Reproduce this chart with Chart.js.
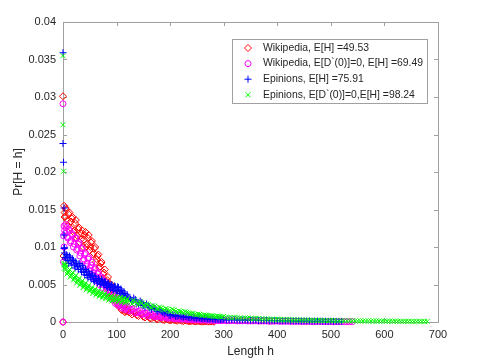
<!DOCTYPE html>
<html>
<head>
<meta charset="utf-8">
<script src="https://cdn.jsdelivr.net/npm/chart.js@4.4.1/dist/chart.umd.min.js"></script>
<style>
  html, body { margin: 0; padding: 0; background: #fff; }
  #wrap { width: 485px; height: 363px; }
</style>
</head>
<body>
<div id="wrap"><canvas id="chart" width="485" height="363"></canvas></div>
<script>
// path lengths h shared by all four series (each series uses a prefix of it)
const lengths = [2,4,6,9,12,15,18,21,24,27,30,33,36,39,42,45,48,51,54,57,60,63,66,69,72,75,78,81,84,87,90,93,96,99,102,105,108,111,114,117,120,
  126,132,138,144,150,156,162,168,174,180,186,192,198,204,210,216,222,228,234,240,246,252,258,264,270,276,282,288,294,300,
  310,320,330,340,350,360,370,380,390,400,410,420,430,440,450,460,470,480,490,500,510,520,530,540,550,560,570,580,590,600,610,620,630,640,650,660,670,680];
// a second, staggered set of lengths for the other side of each noisy cloud
const lengthsMid = [3,5,7.5,10.5,13.5,16.5,19.5,22.5,25.5,28.5,31.5,34.5,37.5,40.5,43.5,46.5,49.5,52.5,55.5,58.5,61.5,64.5,67.5,70.5,73.5,76.5,79.5,82.5,85.5,88.5,91.5,94.5,97.5,100.5,103.5,106.5,109.5,112.5,115.5,118.5,
  123,129,135,141,147,153,159,165,171,177,183,189,195,201,207,213,219,225,231,237,243,249,255,261,267,273,279,285,291,297,
  305,315,325,335,345,355,365,375,385,395,405,415,425,435,445,455,465,475,485,495,505,515,525,535,545,555,565,575,585,595,605,615,625,635,645,655,665,675];

// Pr[H = h] values, in units of 1e-4
const wikiP = [155,140,150,128,146,134,140,122,136,115,126,110,122,110,120,104,116,100,108,92,100,84,90,74,80,64,70,54,60,44,50,36,40,28,32,22,26,17,21,14,17,
  12,14,9,11,7,9,5,7,4,6,3,4.5,2.5,3.5,2,3,1.5,2,1,1.5,0.8,1.2,0.5,0.9,0.4,0.7,0.3];
const wikiPMid = [146,152,136,144,126,138,120,132,112,124,106,118,100,116,100,112,96,106,90,98,80,88,72,78,58,66,50,56,42,46,34,38,27,30,21,24,16,19,13,15,
  13,10,12,8,10,6,8,4.5,6,3.5,5,2.5,3.5,2,2.8,1.5,2.2,1.2,1.7,0.9,1.3,0.7,1,0.5,0.8,0.4,0.6];
const wikiD0P = [128,118,126,112,122,108,116,104,112,98,106,92,98,84,92,78,86,72,80,66,72,60,66,54,60,50,54,44,48,38,42,32,36,27,31,24,27,21,24,19,21,
  16,18,13,15,11,12,9,10,7.5,8.5,6.5,7,5.5,6,4.5,5,4,4.5,3.5,4,3,3.5,2.8,3.2,2.5,2.8,2.2,2.5,2,2.3,
  1.8,2,1.6,1.8,1.4,1.6,1.3,1.4,1.1,1.3,1,1.1,0.9,1,0.8,0.9,0.7,0.8,0.6,0.7,0.6,0.6,0.5,0.5];
const wikiD0PMid = [122,130,114,124,106,118,100,112,96,104,88,98,82,90,74,84,68,76,62,70,56,64,50,58,46,52,40,46,35,40,30,34,25,29,22,26,19,23,17,20,
  15,17,12,14,10,12,8,9.5,7,8,6,6.8,5,5.8,4.2,4.8,3.7,4.2,3.3,3.7,2.9,3.2,2.6,2.9,2.3,2.6,2,2.3,1.8,2.1,
  1.7,1.9,1.5,1.7,1.3,1.5,1.2,1.3,1,1.2,0.9,1,0.8,0.9,0.7,0.8,0.6,0.7,0.6,0.6,0.5,0.5,0.4,0.4];
const epiP = [98,86,90,82,88,80,84,76,80,74,78,70,75,66,70,62,67,60,64,56,61,55,58,52,57,51,54,48,52,46,50,44,48,42,47,40,44,37,40,33,36,
  30,32,26,28,22,24,19,20,16,17,13,14,9,10,8,8.5,7,7.5,6,6.5,5.2,5.6,4.6,5,4,4.3,3.6,3.9,3.2,3.4,
  2.9,3.1,2.6,2.7,2.3,2.4,2,2.1,1.8,1.9,1.6,1.7,1.4,1.5,1.3,1.3,1.1,1.2,1,1,0.9,0.9];
const epiPMid = [92,84,88,78,86,76,82,72,78,70,76,67,72,63,68,59,64,57,62,54,58,52,56,50,55,49,53,46,51,44,49,42,47,41,46,38,42,35,38,31,
  33,28,30,24,26,20,22,17,18,14,15,11,12,8.5,9.5,7.5,8,6.5,7,5.6,6,4.8,5.2,4.2,4.6,3.8,4.1,3.4,3.6,3.1,
  2.7,3,2.5,2.6,2.2,2.3,1.9,2,1.7,1.8,1.5,1.6,1.3,1.4,1.2,1.2,1,1.1,0.9,1,0.8,0.8];
const epiD0P = [78,70,74,66,70,62,66,58,62,55,58,51,55,48,52,45,49,43,46,40,44,38,42,36,40,34,38,33,36,31,35,30,34,30,33,29,33,28,32,27,31,
  26,29,25,27,22,24,20,22,18,20,17,18,15,17,14,15,13,14,12,11,10,10.5,9,9.5,8.5,8.5,7.5,8,7,7.5,
  6,6.3,5.3,5.5,4.6,4.8,4,4.2,3.5,3.7,3.1,3.2,2.7,2.8,2.4,2.5,2.1,2.2,1.9,2,1.7,1.8,1.6,1.6,1.4,1.4,1.3,1.3,1.2,1.2,1.1,1.1,1,1,0.9,0.9,0.8,0.8];
const epiD0PMid = [72,76,64,68,60,64,56,60,52,56,49,53,46,50,43,47,41,44,38,42,36,40,34,38,32,36,31,34,29,33,28,32,28,31,27,31,26,30,25,29,
  28,24,27,23,25,21,23,19,21,17,19,16,17,14,16,13,14,12,13,11,11.5,9.5,10,8.5,9,7.8,8,7,7.5,6.5,
  6.2,5.6,5.8,5,5.1,4.4,4.5,3.8,3.9,3.3,3.4,2.9,3,2.6,2.6,2.3,2.3,2,2,1.8,1.8,1.6,1.6,1.5,1.4,1.3,1.3,1.2,1.2,1.1,1.1,1,1,0.9,0.9,0.8,0.8,0.7];

// the few points near h = 0 that stand apart from the clouds
const wikiHeadH = [0,0,1,3];
const wikiHeadP = [0,301,88,140];
const wikiD0HeadH = [0,0,1,1,2];
const wikiD0HeadP = [0,291,80,115,100];
const epiHeadH = [0,0,1,2,2,3];
const epiHeadP = [359,238,213,152,116,99];
const epiD0HeadH = [0,0,1,2];
const epiD0HeadP = [355,263,201,76];

const seriesLabels = [
  "Wikipedia, E[H] =49.53",
  "Wikipedia, E[D`(0)]=0, E[H] =69.49",
  "Epinions, E[H] =75.91",
  "Epinions, E[D`(0)]=0,E[H] =98.24"
];
const xTicks = [0,100,200,300,400,500,600,700];

const axisColor = "#a0a0a0";
const textColor = "#262626";
const font = "Liberation Sans, Arial, Helvetica, sans-serif";

function toPoints(headH, headP, vals, midVals) {
  const pts = headH.map((h, i) => ({ x: h, y: headP[i] / 1e4 }));
  vals.forEach((v, i) => pts.push({ x: lengths[i], y: v / 1e4 }));
  midVals.forEach((v, i) => pts.push({ x: lengthsMid[i], y: v / 1e4 }));
  return pts;
}

const styles = [
  { color: "#ff0000", pointStyle: "rectRot", radius: 3.5 },
  { color: "#ff00ff", pointStyle: "circle", radius: 3 },
  { color: "#0000ff", pointStyle: "cross", radius: 3.5 },
  { color: "#00ff00", pointStyle: "crossRot", radius: 3.5 }
];

const allPoints = [
  toPoints(wikiHeadH, wikiHeadP, wikiP, wikiPMid),
  toPoints(wikiD0HeadH, wikiD0HeadP, wikiD0P, wikiD0PMid),
  toPoints(epiHeadH, epiHeadP, epiP, epiPMid),
  toPoints(epiD0HeadH, epiD0HeadP, epiD0P, epiD0PMid)
];

const datasets = allPoints.map((pts, i) => ({
  label: seriesLabels[i],
  data: pts,
  borderColor: styles[i].color,
  backgroundColor: "rgba(0,0,0,0)",
  pointStyle: styles[i].pointStyle,
  pointRadius: styles[i].radius,
  pointBorderWidth: 1,
  showLine: false,
  clip: false,
  order: 4 - i
}));

function drawMarker(ctx, style, x, y) {
  const r = style.radius;
  ctx.strokeStyle = style.color;
  ctx.lineWidth = 1;
  ctx.beginPath();
  if (style.pointStyle === "rectRot") {
    ctx.moveTo(x, y - r); ctx.lineTo(x + r, y); ctx.lineTo(x, y + r); ctx.lineTo(x - r, y); ctx.closePath();
  } else if (style.pointStyle === "circle") {
    ctx.arc(x, y, r, 0, Math.PI * 2);
  } else if (style.pointStyle === "cross") {
    ctx.moveTo(x - r, y); ctx.lineTo(x + r, y); ctx.moveTo(x, y - r); ctx.lineTo(x, y + r);
  } else {
    const d = r * Math.SQRT1_2;
    ctx.moveTo(x - d, y - d); ctx.lineTo(x + d, y + d); ctx.moveTo(x - d, y + d); ctx.lineTo(x + d, y - d);
  }
  ctx.stroke();
}

const octaveFrame = {
  id: "octaveFrame",
  beforeDatasetsDraw(chart) {
    const { ctx, chartArea: a, scales: { x, y } } = chart;
    ctx.save();
    ctx.strokeStyle = axisColor;
    ctx.lineWidth = 1;
    ctx.strokeRect(a.left + 0.5, a.top + 0.5, a.right - a.left, a.bottom - a.top);
    ctx.beginPath();
    x.ticks.forEach(t => {
      const px = Math.round(x.getPixelForValue(t.value)) + 0.5;
      ctx.moveTo(px, a.bottom); ctx.lineTo(px, a.bottom - 4);
      ctx.moveTo(px, a.top); ctx.lineTo(px, a.top + 4);
    });
    y.ticks.forEach(t => {
      const py = Math.round(y.getPixelForValue(t.value)) + 0.5;
      ctx.moveTo(a.left, py); ctx.lineTo(a.left + 4, py);
      ctx.moveTo(a.right, py); ctx.lineTo(a.right - 4, py);
    });
    ctx.stroke();
    ctx.restore();
  },
  afterDraw(chart) {
    const ctx = chart.ctx;
    const bx = 232, by = 39, bw = 195, bh = 64;
    ctx.save();
    ctx.fillStyle = "#fff";
    ctx.fillRect(bx, by, bw, bh);
    ctx.strokeStyle = axisColor;
    ctx.lineWidth = 1;
    ctx.strokeRect(bx + 0.5, by + 0.5, bw, bh);
    ctx.font = "10.4px " + font;
    ctx.textBaseline = "middle";
    seriesLabels.forEach((label, i) => {
      const ly = 48 + i * 15.6;
      drawMarker(ctx, styles[i], 248, ly);
      ctx.fillStyle = textColor;
      ctx.fillText(label, 263, ly);
    });
    ctx.restore();
  }
};

new Chart(document.getElementById("chart"), {
  type: "scatter",
  data: { datasets },
  options: {
    responsive: false,
    animation: false,
    events: [],
    layout: { padding: { top: 22, right: 47, left: 0, bottom: 0 } },
    plugins: {
      legend: { display: false },
      tooltip: { enabled: false }
    },
    scales: {
      x: {
        type: "linear",
        min: 0,
        max: 700,
        afterBuildTicks: s => { s.ticks = xTicks.map(v => ({ value: v })); },
        afterFit: s => { s.height = 41; },
        grid: { display: false, drawTicks: false },
        border: { display: false },
        ticks: { color: textColor, font: { family: font, size: 11 }, padding: 6, maxRotation: 0 },
        title: { display: true, text: "Length h", color: textColor, font: { family: font, size: 12 }, padding: { top: 0, bottom: 4 } }
      },
      y: {
        type: "linear",
        min: 0,
        max: 0.04,
        ticks: {
          stepSize: 0.005,
          color: textColor,
          font: { family: font, size: 11 },
          padding: 7,
          callback: v => String(+Number(v).toFixed(3))
        },
        afterFit: s => { s.width = 63; },
        grid: { display: false, drawTicks: false },
        border: { display: false },
        title: { display: true, text: "Pr[H = h]", color: textColor, font: { family: font, size: 12 }, padding: { top: 11, bottom: 0 } }
      }
    }
  },
  plugins: [octaveFrame]
});
</script>
</body>
</html>
